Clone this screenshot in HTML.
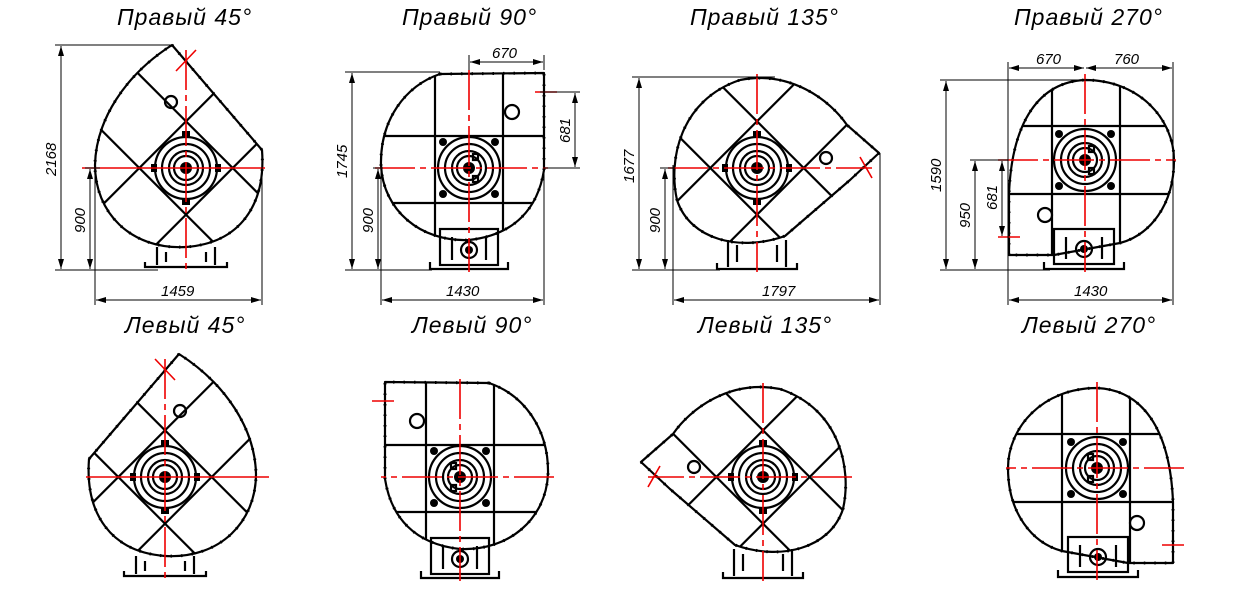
<!DOCTYPE html>
<html><head><meta charset="utf-8"><style>
html,body{margin:0;padding:0;background:#fff;width:1241px;height:604px;overflow:hidden;}
svg{display:block;overflow:hidden;}
.t{font-family:"Liberation Sans",sans-serif;font-style:italic;font-size:23px;fill:#000;letter-spacing:1px;}
.d{font-family:"Liberation Sans",sans-serif;font-style:italic;font-size:15px;fill:#000;}
.o{fill:none;stroke:#000;stroke-width:2.2;stroke-linejoin:round;}
.g{stroke:#000;stroke-width:2.2;fill:none;}
.r{stroke:#e00;stroke-width:1.6;fill:none;}
.rd{stroke:#e00;stroke-width:1.6;fill:none;stroke-dasharray:40 5 6 5;}
.dm{stroke:#000;stroke-width:1;fill:none;}
.ds{stroke:#000;fill:none;stroke-dasharray:1.5 9;stroke-width:3;}
</style></head><body>
<svg width="1241" height="604" viewBox="0 0 1241 604" xmlns="http://www.w3.org/2000/svg">
<defs>
<marker id="a" viewBox="0 0 10 6" refX="10" refY="3" markerWidth="10" markerHeight="6" orient="auto-start-reverse" markerUnits="userSpaceOnUse"><path d="M0,0 L10,3 L0,6 Z" fill="#000"/></marker>
<g id="hub">
 <circle r="31" class="g" stroke-width="1.6"/>
 <circle r="24" class="g" stroke-width="1.6"/>
 <circle r="17" class="g" stroke-width="1.6"/>
 <circle r="12" class="g" stroke-width="1.4"/>
 <circle r="6" fill="#000"/>
 <circle cx="-26" cy="-26" r="4" fill="#000"/><circle cx="26" cy="-26" r="4" fill="#000"/>
 <circle cx="-26" cy="26" r="4" fill="#000"/><circle cx="26" cy="26" r="4" fill="#000"/>
 <rect x="4" y="-14" width="5" height="6" class="g" stroke-width="1.2"/>
 <rect x="4" y="8" width="5" height="6" class="g" stroke-width="1.2"/>
</g>
<g id="hubd">
 <circle r="31" class="g" stroke-width="1.6"/>
 <circle r="24" class="g" stroke-width="1.6"/>
 <circle r="17" class="g" stroke-width="1.6"/>
 <circle r="12" class="g" stroke-width="1.4"/>
 <circle r="6" fill="#000"/>
 <rect x="-35" y="-4" width="6" height="8" fill="#000"/><rect x="29" y="-4" width="6" height="8" fill="#000"/>
 <rect x="-4" y="-37" width="8" height="6" fill="#000"/><rect x="-4" y="31" width="8" height="6" fill="#000"/>
</g>
<clipPath id="c45"><path d="M172,45 L262,150 C266,205 240,243 186,247 C130,250 95,212 95,165 C96,120 125,75 172,45 Z"/></clipPath>
<clipPath id="c90"><path d="M440,74 L544,73 L544,170 C538,208 515,235 469,240 C420,242 383,210 381,165 C380,120 405,86 440,74 Z"/></clipPath>
<clipPath id="c135"><path d="M879,153 L850,180 L785,236 C740,252 690,240 677,200 C668,160 680,100 740,80 C790,70 830,100 847,125 Z"/></clipPath>
<clipPath id="c270"><path d="M1009,255 L1009,194 C1012,120 1040,82 1085,80 C1140,80 1174,120 1174,160 C1174,205 1150,235 1120,243 L1054,255 Z"/></clipPath>

<g id="v45">
 <g clip-path="url(#c45)"><g transform="rotate(45 186 168)">
  <line x1="153" y1="-100" x2="153" y2="400" class="g"/><line x1="219" y1="-100" x2="219" y2="400" class="g"/>
  <line x1="-100" y1="135" x2="400" y2="135" class="g"/><line x1="-100" y1="201" x2="400" y2="201" class="g"/>
 </g></g>
 <path d="M172,45 L262,150 C266,205 240,243 186,247 C130,250 95,212 95,165 C96,120 125,75 172,45 Z" class="o"/>
 <path d="M172,45 L262,150 C266,205 240,243 186,247 C130,250 95,212 95,165 C96,120 125,75 172,45 Z" class="ds"/>
 <use href="#hubd" x="186" y="168"/>
 <path d="M165,102 a6,6 0 1,0 12,0 a6,6 0 1,0 -12,0" class="g"/>
 <line x1="157" y1="247" x2="157" y2="265" class="g" stroke-width="3"/><line x1="215" y1="247" x2="215" y2="265" class="g" stroke-width="3"/>
 <line x1="166" y1="252" x2="166" y2="262" class="g"/><line x1="206" y1="252" x2="206" y2="262" class="g"/>
 <path d="M145,262 L145,267 L227,267 L227,262" class="g"/>
 <line x1="82" y1="168" x2="265" y2="168" class="r"/>
 <line x1="186" y1="50" x2="186" y2="272" class="rd"/>
 <line x1="176" y1="71" x2="196" y2="50" class="r"/>
</g>

<g id="v90">
 <g clip-path="url(#c90)">
  <line x1="435" y1="50" x2="435" y2="260" class="g"/><line x1="503" y1="50" x2="503" y2="260" class="g"/>
  <line x1="360" y1="136" x2="560" y2="136" class="g"/><line x1="360" y1="203" x2="560" y2="203" class="g"/>
 </g>
 <path d="M440,74 L544,73 L544,170 C538,208 515,235 469,240 C420,242 383,210 381,165 C380,120 405,86 440,74 Z" class="o"/>
 <path d="M440,74 L544,73 L544,170 C538,208 515,235 469,240 C420,242 383,210 381,165 C380,120 405,86 440,74 Z" class="ds"/>
 <use href="#hub" x="469" y="168"/>
 <path d="M505,112 a7,7 0 1,0 14,0 a7,7 0 1,0 -14,0" class="g"/>
 <rect x="440" y="229" width="58" height="36" fill="#fff" class="g"/>
 <line x1="452" y1="237" x2="452" y2="260" class="g"/><line x1="486" y1="237" x2="486" y2="260" class="g"/>
 <circle cx="469" cy="250" r="8" class="g"/><circle cx="469" cy="250" r="4" fill="#000"/>
 <path d="M430,262 L430,269 L508,269 L508,262" class="g"/>
 <line x1="375" y1="168" x2="548" y2="168" class="rd"/>
 <line x1="469" y1="70" x2="469" y2="272" class="rd"/>
 <line x1="535" y1="92" x2="557" y2="92" class="r"/>
</g>

<g id="v135">
 <g clip-path="url(#c135)"><g transform="rotate(45 757 168)">
  <line x1="724" y1="-100" x2="724" y2="400" class="g"/><line x1="790" y1="-100" x2="790" y2="400" class="g"/>
  <line x1="500" y1="135" x2="1000" y2="135" class="g"/><line x1="500" y1="201" x2="1000" y2="201" class="g"/>
 </g></g>
 <path d="M879,153 L850,180 L785,236 C740,252 690,240 677,200 C668,160 680,100 740,80 C790,70 830,100 847,125 Z" class="o"/>
 <path d="M879,153 L850,180 L785,236 C740,252 690,240 677,200 C668,160 680,100 740,80 C790,70 830,100 847,125 Z" class="ds"/>
 <use href="#hubd" x="757" y="168"/>
 <path d="M820,158 a6,6 0 1,0 12,0 a6,6 0 1,0 -12,0" class="g"/>
 <line x1="728" y1="240" x2="728" y2="267" class="g" stroke-width="3"/><line x1="786" y1="240" x2="786" y2="267" class="g" stroke-width="3"/>
 <line x1="737" y1="245" x2="737" y2="262" class="g"/><line x1="777" y1="245" x2="777" y2="262" class="g"/>
 <path d="M717,263 L717,269 L797,269 L797,263" class="g"/>
 <line x1="668" y1="168" x2="872" y2="168" class="rd"/>
 <line x1="757" y1="74" x2="757" y2="272" class="rd"/>
 <line x1="860" y1="157" x2="872" y2="178" class="r"/>
</g>

<g id="v270">
 <g clip-path="url(#c270)">
  <line x1="1052" y1="50" x2="1052" y2="280" class="g"/><line x1="1120" y1="50" x2="1120" y2="280" class="g"/>
  <line x1="990" y1="126" x2="1190" y2="126" class="g"/><line x1="990" y1="194" x2="1190" y2="194" class="g"/>
 </g>
 <path d="M1009,255 L1009,194 C1012,120 1040,82 1085,80 C1140,80 1174,120 1174,160 C1174,205 1150,235 1120,243 L1054,255 Z" class="o"/>
 <path d="M1009,255 L1009,194 C1012,120 1040,82 1085,80 C1140,80 1174,120 1174,160 C1174,205 1150,235 1120,243 L1054,255 Z" class="ds"/>
 <use href="#hub" x="1085" y="160"/>
 <path d="M1038,215 a7,7 0 1,0 14,0 a7,7 0 1,0 -14,0" class="g"/>
 <rect x="1054" y="229" width="60" height="35" fill="#fff" class="g"/>
 <line x1="1066" y1="237" x2="1066" y2="259" class="g"/><line x1="1102" y1="237" x2="1102" y2="259" class="g"/>
 <circle cx="1084" cy="249" r="8" class="g"/><circle cx="1084" cy="249" r="4" fill="#000"/>
 <path d="M1044,262 L1044,269 L1124,269 L1124,262" class="g"/>
 <line x1="998" y1="160" x2="1176" y2="160" class="rd"/>
 <line x1="1085" y1="74" x2="1085" y2="272" class="rd"/>
 <line x1="998" y1="237" x2="1020" y2="237" class="r"/>
</g>
</defs>

<text class="t" x="117" y="25">Правый 45°</text>
<text class="t" x="402" y="25">Правый 90°</text>
<text class="t" x="690" y="25">Правый 135°</text>
<text class="t" x="1014" y="25">Правый 270°</text>
<text class="t" x="125" y="333">Левый 45°</text>
<text class="t" x="412" y="333">Левый 90°</text>
<text class="t" x="698" y="333">Левый 135°</text>
<text class="t" x="1022" y="333">Левый 270°</text>

<use href="#v45"/><use href="#v90"/><use href="#v135"/><use href="#v270"/>
<use href="#v45" transform="translate(351,309) scale(-1,1)"/>
<use href="#v90" transform="translate(929,309) scale(-1,1)"/>
<use href="#v135" transform="translate(1520,309) scale(-1,1)"/>
<use href="#v270" transform="translate(2182,308) scale(-1,1)"/>

<g>
 <line x1="55" y1="45" x2="172" y2="45" class="dm"/><line x1="55" y1="270" x2="158" y2="270" class="dm"/>
 <line x1="61" y1="46" x2="61" y2="269" class="dm" marker-start="url(#a)" marker-end="url(#a)"/>
 <line x1="85" y1="168" x2="100" y2="168" class="dm"/>
 <line x1="90" y1="169" x2="90" y2="269" class="dm" marker-start="url(#a)" marker-end="url(#a)"/>
 <line x1="95" y1="165" x2="95" y2="305" class="dm"/><line x1="262" y1="150" x2="262" y2="305" class="dm"/>
 <line x1="96" y1="300" x2="261" y2="300" class="dm" marker-start="url(#a)" marker-end="url(#a)"/>
 <text class="d" transform="translate(56,176) rotate(-90)">2168</text>
 <text class="d" transform="translate(85,233) rotate(-90)">900</text>
 <text class="d" x="161" y="296">1459</text>
</g>
<g>
 <line x1="345" y1="72" x2="440" y2="72" class="dm"/><line x1="345" y1="270" x2="432" y2="270" class="dm"/>
 <line x1="352" y1="73" x2="352" y2="269" class="dm" marker-start="url(#a)" marker-end="url(#a)"/>
 <line x1="373" y1="168" x2="383" y2="168" class="dm"/>
 <line x1="378" y1="169" x2="378" y2="269" class="dm" marker-start="url(#a)" marker-end="url(#a)"/>
 <line x1="381" y1="165" x2="381" y2="305" class="dm"/><line x1="544" y1="73" x2="544" y2="305" class="dm"/>
 <line x1="382" y1="300" x2="543" y2="300" class="dm" marker-start="url(#a)" marker-end="url(#a)"/>
 <line x1="469" y1="55" x2="469" y2="70" class="dm"/><line x1="544" y1="55" x2="544" y2="70" class="dm"/>
 <line x1="470" y1="62" x2="543" y2="62" class="dm" marker-start="url(#a)" marker-end="url(#a)"/>
 <line x1="540" y1="92" x2="580" y2="92" class="dm"/><line x1="545" y1="168" x2="580" y2="168" class="dm"/>
 <line x1="575" y1="93" x2="575" y2="167" class="dm" marker-start="url(#a)" marker-end="url(#a)"/>
 <text class="d" transform="translate(347,178) rotate(-90)">1745</text>
 <text class="d" transform="translate(373,233) rotate(-90)">900</text>
 <text class="d" x="446" y="296">1430</text>
 <text class="d" x="492" y="58">670</text>
 <text class="d" transform="translate(570,143) rotate(-90)">681</text>
</g>
<g>
 <line x1="632" y1="77" x2="775" y2="77" class="dm"/><line x1="632" y1="270" x2="720" y2="270" class="dm"/>
 <line x1="639" y1="78" x2="639" y2="269" class="dm" marker-start="url(#a)" marker-end="url(#a)"/>
 <line x1="660" y1="168" x2="675" y2="168" class="dm"/>
 <line x1="665" y1="169" x2="665" y2="269" class="dm" marker-start="url(#a)" marker-end="url(#a)"/>
 <line x1="673" y1="165" x2="673" y2="305" class="dm"/><line x1="880" y1="153" x2="880" y2="305" class="dm"/>
 <line x1="674" y1="300" x2="879" y2="300" class="dm" marker-start="url(#a)" marker-end="url(#a)"/>
 <text class="d" transform="translate(634,183) rotate(-90)">1677</text>
 <text class="d" transform="translate(660,233) rotate(-90)">900</text>
 <text class="d" x="762" y="296">1797</text>
</g>
<g>
 <line x1="940" y1="80" x2="1090" y2="80" class="dm"/><line x1="940" y1="270" x2="1050" y2="270" class="dm"/>
 <line x1="946" y1="81" x2="946" y2="269" class="dm" marker-start="url(#a)" marker-end="url(#a)"/>
 <line x1="970" y1="160" x2="1008" y2="160" class="dm"/>
 <line x1="975" y1="161" x2="975" y2="269" class="dm" marker-start="url(#a)" marker-end="url(#a)"/>
 <line x1="1002" y1="161" x2="1002" y2="236" class="dm" marker-start="url(#a)" marker-end="url(#a)"/>
 <line x1="1008" y1="62" x2="1008" y2="305" class="dm"/><line x1="1173" y1="62" x2="1173" y2="305" class="dm"/>
 <line x1="1009" y1="300" x2="1172" y2="300" class="dm" marker-start="url(#a)" marker-end="url(#a)"/>
 <line x1="1009" y1="68" x2="1084" y2="68" class="dm" marker-start="url(#a)" marker-end="url(#a)"/>
 <line x1="1086" y1="68" x2="1172" y2="68" class="dm" marker-start="url(#a)" marker-end="url(#a)"/>
 <text class="d" transform="translate(941,192) rotate(-90)">1590</text>
 <text class="d" transform="translate(970,228) rotate(-90)">950</text>
 <text class="d" transform="translate(997,210) rotate(-90)">681</text>
 <text class="d" x="1074" y="296">1430</text>
 <text class="d" x="1036" y="64">670</text>
 <text class="d" x="1114" y="64">760</text>
</g>
</svg>
</body></html>
